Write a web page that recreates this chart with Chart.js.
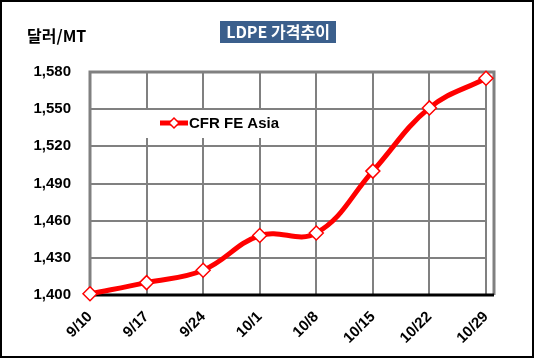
<!DOCTYPE html>
<html>
<head>
<meta charset="utf-8">
<script src="https://cdn.jsdelivr.net/npm/chart.js@4"></script>
<style>
  html, body { margin: 0; padding: 0; background: #fff; }
  #wrap { width: 535px; height: 359px; position: relative; }
</style>
</head>
<body>
<div id="wrap"><canvas id="chart" width="535" height="359"></canvas></div>
<script>
const categories = ['9/10', '9/17', '9/24', '10/1', '10/8', '10/15', '10/22', '10/29'];
const cfrValues = [1401, 1410, 1420, 1448, 1450, 1500, 1551, 1575];
const yTicks = [1400, 1430, 1460, 1490, 1520, 1550, 1580];

const FONT = '"Liberation Sans", Arial, "Noto Sans CJK KR", sans-serif';
const KFONT = '"Noto Sans CJK KR", "Liberation Sans", sans-serif';

// frame, title, unit label and legend
const decorations = {
  id: 'decorations',
  beforeDatasetsDraw(chart) {
    const { ctx, chartArea: a } = chart;
    ctx.save();
    // legend background
    ctx.fillStyle = '#fff';
    ctx.fillRect(138, 110, 168, 28);
    // plot frame: top, left and right in gray
    ctx.strokeStyle = '#808080';
    ctx.lineWidth = 3;
    ctx.beginPath();
    ctx.moveTo(a.left, a.bottom);
    ctx.lineTo(a.left, a.top);
    ctx.lineTo(a.right + 8, a.top);
    ctx.lineTo(a.right + 8, a.bottom);
    ctx.stroke();
    // black bottom axis
    ctx.strokeStyle = '#000';
    ctx.beginPath();
    ctx.moveTo(a.left, a.bottom);
    ctx.lineTo(a.right + 8, a.bottom);
    ctx.stroke();

    // legend
    ctx.strokeStyle = '#ff0000';
    ctx.lineWidth = 5;
    ctx.beginPath();
    ctx.moveTo(160, 123);
    ctx.lineTo(188, 123);
    ctx.stroke();
    ctx.fillStyle = '#fff';
    ctx.lineWidth = 1.5;
    ctx.beginPath();
    ctx.moveTo(174, 118);
    ctx.lineTo(179, 123);
    ctx.lineTo(174, 128);
    ctx.lineTo(169, 123);
    ctx.closePath();
    ctx.fill();
    ctx.stroke();
    ctx.fillStyle = '#000';
    ctx.font = 'bold 15px ' + FONT;
    ctx.textAlign = 'left';
    ctx.textBaseline = 'middle';
    ctx.fillText('CFR FE Asia', 189, 124);
    ctx.restore();
  },
  afterDraw(chart) {
    const { ctx } = chart;
    ctx.save();
    // title box
    ctx.fillStyle = '#3b5f8c';
    ctx.fillRect(220, 21, 116, 22);
    ctx.fillStyle = '#fff';
    ctx.font = 'bold 16px ' + KFONT;
    ctx.textAlign = 'center';
    ctx.textBaseline = 'middle';
    ctx.fillText('LDPE 가격추이', 278, 32);
    // unit label
    ctx.fillStyle = '#000';
    ctx.font = 'bold 16px ' + KFONT;
    ctx.textAlign = 'left';
    ctx.fillText('달러/MT', 27, 36);
    // outer border
    ctx.strokeStyle = '#000';
    ctx.lineWidth = 2;
    ctx.strokeRect(1, 1, 532, 356);
    ctx.restore();
  }
};

new Chart(document.getElementById('chart'), {
  type: 'line',
  data: {
    labels: categories,
    datasets: [{
      label: 'CFR FE Asia',
      data: cfrValues,
      borderColor: '#ff0000',
      borderWidth: 5,
      tension: 0.4,
      pointStyle: 'rectRot',
      pointRadius: 7,
      pointBorderWidth: 1.5,
      pointBackgroundColor: '#fff',
      pointBorderColor: '#ff0000',
      clip: false
    }]
  },
  options: {
    responsive: false,
    animation: false,
    layout: { padding: { top: 72, right: 49, left: 0, bottom: 0 } },
    plugins: { legend: { display: false }, tooltip: { enabled: false } },
    scales: {
      x: {
        offset: false,
        afterFit(scale) { scale.height = 64; },
        grid: { color: '#808080', lineWidth: 2, drawTicks: false },
        border: { display: false },
        ticks: {
          color: '#000',
          font: { family: FONT, size: 15, weight: 'bold' },
          maxRotation: 45,
          minRotation: 45,
          autoSkip: false,
          padding: 13
        }
      },
      y: {
        min: 1400,
        max: 1580,
        afterFit(scale) { scale.width = 90; },
        afterBuildTicks(scale) { scale.ticks = yTicks.map(v => ({ value: v })); },
        grid: { color: '#808080', lineWidth: 2, drawTicks: false },
        border: { display: false },
        ticks: {
          color: '#000',
          padding: 19,
          font: { family: FONT, size: 15, weight: 'bold' },
          callback: v => v.toLocaleString('en-US')
        }
      }
    }
  },
  plugins: [decorations]
});
</script>
</body>
</html>
